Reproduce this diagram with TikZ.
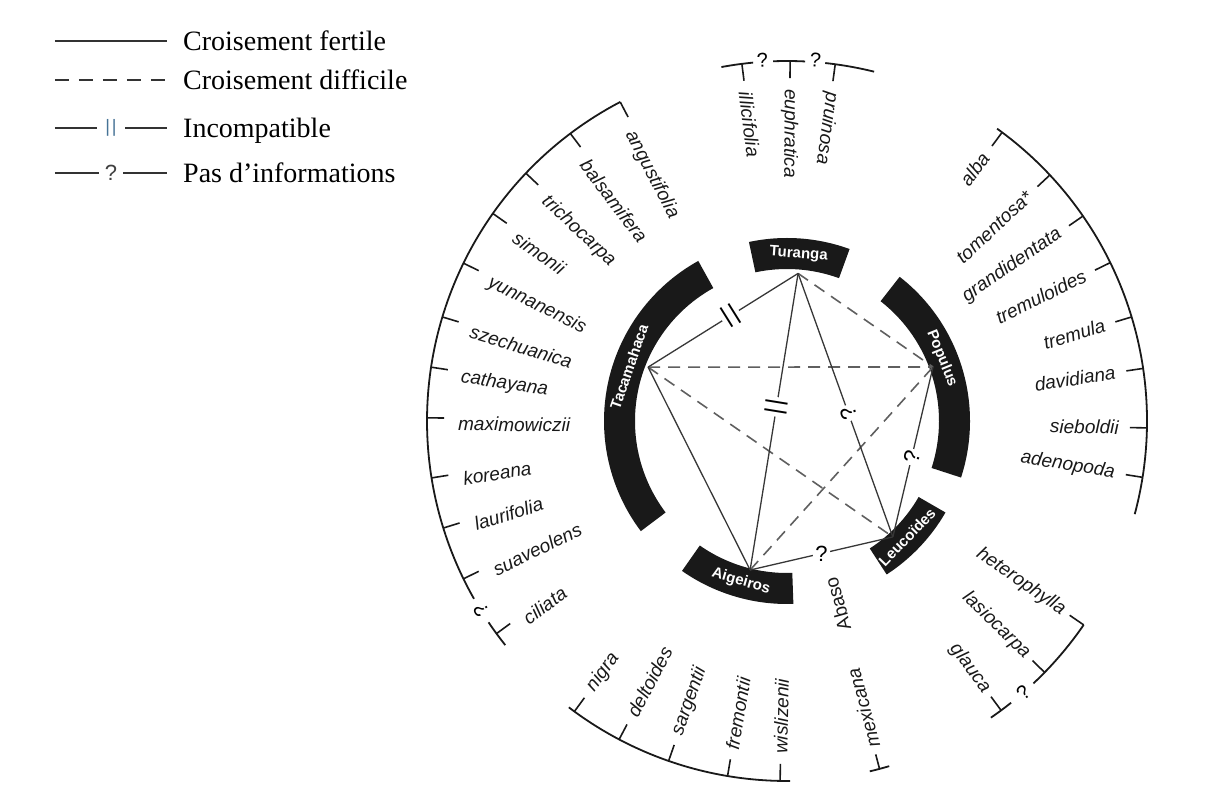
\documentclass[tikz,border=0pt]{standalone}
\usepackage{fontspec}
\setmainfont{Liberation Serif}
\newfontfamily\sansfont{Liberation Sans}
\usetikzlibrary{positioning}
\definecolor{edgegray}{RGB}{55,55,55}
\definecolor{dashgray}{RGB}{95,95,95}
\definecolor{barblue}{RGB}{70,115,150}
\tikzstyle{legline}=[draw=black!80,line width=1.8pt]
\tikzstyle{legtext}=[font=\fontsize{28}{30}\selectfont,inner sep=0pt,text height=18.6pt,text depth=0pt]
\tikzstyle{block}=[fill=black!90]
\tikzstyle{group}=[font=\sansfont\bfseries\fontsize{15}{17}\selectfont,text=white,inner sep=0pt]
\tikzstyle{species}=[font=\sansfont\itshape\fontsize{19}{21}\selectfont,inner sep=0pt,text=black!90]
\tikzstyle{section}=[font=\sansfont\fontsize{19}{21}\selectfont,inner sep=0pt,text=black!90]
\tikzstyle{fertile}=[draw=edgegray,line width=1.3pt]
\tikzstyle{difficile}=[draw=dashgray,line width=1.6pt,dash pattern=on 12pt off 8pt]
\tikzstyle{unknown}=[font=\sansfont\fontsize{22}{24}\selectfont,fill=white,inner sep=2pt]
\tikzstyle{incompat}=[font=\sansfont\fontsize{24}{26}\selectfont,fill=white,inner sep=2pt]
\tikzstyle{rim}=[draw=black!90,line width=1.8pt]
\tikzstyle{notch}=[draw=black!90,line width=1.6pt]
\tikzstyle{rimq}=[font=\sansfont\fontsize{20}{22}\selectfont,inner sep=0pt]

\begin{document}
\begin{tikzpicture}[x=1pt,y=1pt]
\useasboundingbox (-787,-376) rectangle (423,421);

% the legend
\foreach \i/\y in {1/380, 2/341, 3/293, 4/248}{
  \coordinate (a\i) at (-732,\y);
  \coordinate (b\i) at (-620,\y);
}
\path[legline] (a1) -- (b1);
\path[legline,dash pattern=on 14pt off 10pt] (a2) -- (b2);
\path[legline] (a3) -- node[incompat,text=barblue,font=\sansfont\fontsize{18}{20}\selectfont,inner xsep=8pt] (lb) {|\kern2pt|} (b3);
\path[legline] (a4) -- node[unknown,text=black!75,inner xsep=6pt] (lq) {?} (b4);
\node[legtext,right=16pt of b1] (t1) {Croisement fertile};
\node[legtext,right=16pt of b2] (t2) {Croisement difficile};
\node[legtext,right=16pt of b3] (t3) {Incompatible};
\node[legtext,right=16pt of b4] (t4) {Pas d’informations};

% the five sections, black blocks round the centre
\foreach \s/\e/\m/\r/\n/\g in {119/217/161/71/Tacamahaca/ta, 70/102/86/-4/Turanga/tu,
                               -18/52/22/-68/Populus/po, -57/-30/-44/46/Leucoïdes/le,
                               -125/-88/-106/-16/Aigeiros/ai}{
  \fill[block] (\s:152) arc[start angle=\s, end angle=\e, radius=152]
     -- (\e:183) arc[start angle=\e, end angle=\s, radius=183] -- cycle;
  \node[group,rotate=\r] (g-\g) at (\m:167) {\n};
}

% where the crossings meet the sections
\coordinate (Tu) at (85.7:148);
\coordinate (Ta) at (158.8:149);
\coordinate (Po) at (20.3:155.7);
\coordinate (Le) at (-47.6:157);
\coordinate (Ai) at (-103.9:153.5);

\foreach \u/\v in {Ta/Po, Ta/Le, Tu/Po, Ai/Po}
  \path[difficile] (\u) -- (\v);
\path[fertile] (Ta) -- (Ai);
\path[fertile] (Ta) -- node[incompat,sloped,pos=0.55] (i1) {|\kern3pt|} (Tu);
\path[fertile] (Tu) -- node[incompat,sloped,pos=0.45] (i2) {|\kern3pt|} (Ai);
\path[fertile] (Tu) -- node[unknown,pos=0.53,rotate=110] (q1) {?} (Le);
\path[fertile] (Po) -- node[unknown,pos=0.53,rotate=77] (q2) {?} (Le);
\path[fertile] (Ai) -- node[unknown] (q3) {?} (Le);

% outer rim
\foreach \s/\e in {117.6/209.6, 214/218.5, -15/54.3, 95.4/100.5, 87.1/92.2, 76/83.9,
                   -46.8/-34.5, -55.5/-51.5, -127.3/-89.5, -76.7/-73.5}
  \draw[rim] (\s:360) arc[start angle=\s, end angle=\e, radius=360];
\foreach \a in {117.6,127,136.5,144.8,154,163.2,171.4,179.5,189.1,197.3,206,216.2,
                53.3,43.1,34.7,26.1,16.8,8.4,-1.1,-9,
                97.2,89.5,82.3, -34.5,-44.3,-53.5,
                -126.2,-117.8,-109.2,-99.5,-91.1}
  \draw[notch] (\a:360) -- (\a:343);
\draw[notch] (-75.1:360) -- (-75.1:345);
\node[rimq,rotate=3.9] (r1) at (93.9:362) {?};
\node[rimq,rotate=-4.5] (r2) at (85.5:362) {?};
\node[rimq,rotate=121.8] (r3) at (211.8:360) {?};
\node[rimq,rotate=41] (r4) at (-49:360) {?};

% species names
\foreach \a/\n [count=\i] in {117.6/angustifolia, 127/balsamifera, 136.5/trichocarpa, 144.8/simonii,
      154/yunnanensis, 163.2/szechuanica, 171.4/cathayana, 179.5/maximowiczii, 189.1/koreana,
      197.3/laurifolia, 206/suaveolens, 216.2/ciliata}
  \node[species,anchor=west,rotate=\a-180] (ta\i) at (\a+1:329) {\n};
\foreach \a/\n [count=\i] in {97.2/illicifolia, 89.5/euphratica, 82.3/pruinosa}
  \node[species,anchor=west,rotate=\a-180] (tu\i) at (\a:332) {\n};
\foreach \a/\n [count=\i] in {53.3/alba, 43.1/tomentosa*, 34.7/grandidentata, 26.1/tremuloides,
      16.8/tremula, 8.4/davidiana, -1.1/sieboldii, -9/adenopoda}
  \node[species,anchor=east,rotate=\a] (po\i) at (\a:332) {\n};
\foreach \a/\n [count=\i] in {-34.5/heterophylla, -44.3/lasiocarpa, -53.5/glauca}
  \node[species,anchor=east,rotate=\a] (le\i) at (\a:336) {\n};
\foreach \a/\n [count=\i] in {-126.2/nigra, -117.8/deltoides, -109.2/sargentii, -99.5/fremontii,
      -91.1/wislizenii}
  \node[species,anchor=west,rotate=\a+180] (ai\i) at (\a:333) {\n};
\node[species,anchor=west,rotate=104.9] (ab1) at (-75.1:338) {mexicana};
\node[section,anchor=west,rotate=105.5] (ab) at (-74.5:217) {Abaso};
\end{tikzpicture}
\end{document}
